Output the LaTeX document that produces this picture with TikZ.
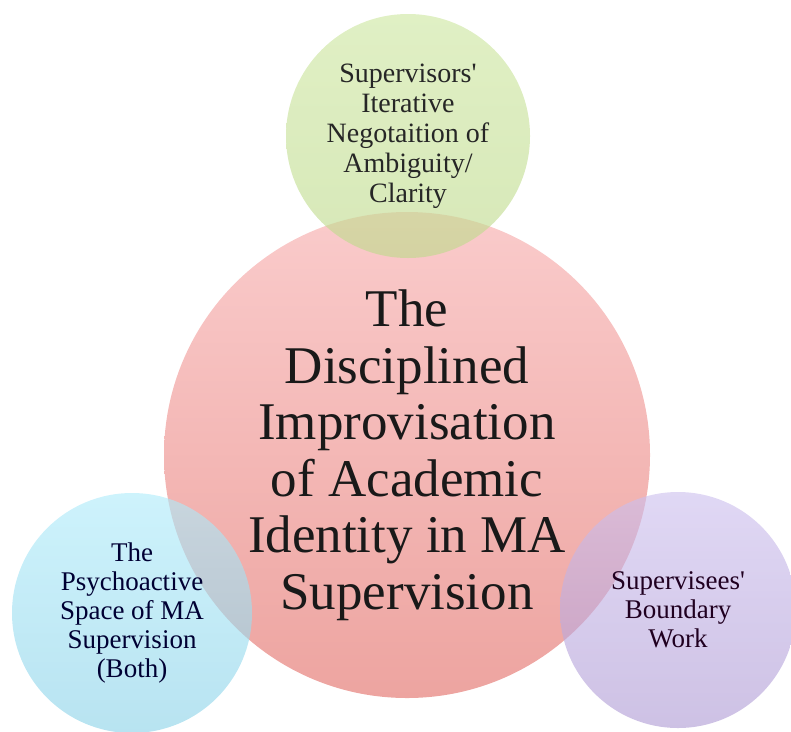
\documentclass[tikz,border=0pt]{standalone}
\usepackage{fontspec}
\setmainfont{Liberation Serif}

\definecolor{coreTop}{RGB}{250, 203, 203}
\definecolor{coreBot}{RGB}{237, 164, 160}
\definecolor{leafTop}{RGB}{205, 230, 160}
\definecolor{leafBot}{RGB}{190, 218, 140}
\definecolor{skyTop}{RGB}{175, 235, 250}
\definecolor{skyBot}{RGB}{140, 210, 232}
\definecolor{lilacTop}{RGB}{205, 192, 238}
\definecolor{lilacBot}{RGB}{175, 155, 212}

\tikzset{
    bubble/.style = {circle, inner sep = 0pt, align = center, minimum size = 240},
    faded/.style = {bubble, fill opacity = 0.62, text opacity = 1},
    small text/.style = {font = \fontsize{27}{29}\selectfont},
}

\begin{document}
\begin{tikzpicture}[x = 1pt, y = -1pt]
    \useasboundingbox (0, 0) rectangle (791, 731);
    % central theme
    \node[bubble, minimum size = 486, top color = coreTop, bottom color = coreBot,
          text = black!90, font = \fontsize{53}{56.5}\selectfont]
        (core) at (407, 455) {
            The\\Disciplined\\Improvisation\\of Academic\\Identity in MA\\Supervision
        };
    % satellites
    \node[faded, minimum size = 244, top color = leafTop, bottom color = leafBot,
          text = black!85, font = \fontsize{28}{30}\selectfont]
        (nego) at (408, 136) {
            Supervisors\textquotesingle\\Iterative\\Negotaition of\\Ambiguity/\\Clarity
        };
    \node[faded, top color = skyTop, bottom color = skyBot,
          text = blue!20!black, small text]
        (space) at (132, 613) {
            The\\Psychoactive\\Space of MA\\Supervision\\(Both)
        };
    \node[faded, minimum size = 236, top color = lilacTop, bottom color = lilacBot,
          text = violet!25!black, small text]
        (bound) at (678, 610) {
            Supervisees\textquotesingle\\Boundary\\Work
        };
\end{tikzpicture}
\end{document}
